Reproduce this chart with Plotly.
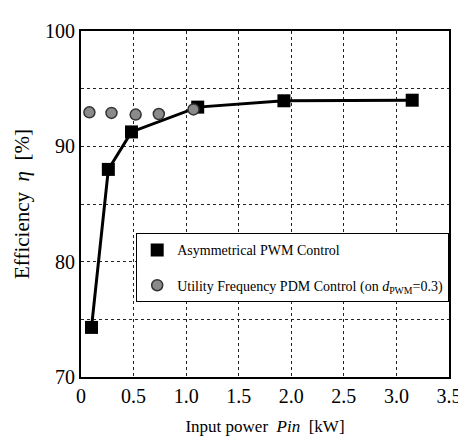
import plotly.graph_objects as go

pwm_x = [0.10, 0.26, 0.48, 1.11, 1.93, 3.15]
pwm_y = [74.3, 88.0, 91.25, 93.4, 93.95, 94.0]
pdm_x = [0.08, 0.29, 0.52, 0.74, 1.07]
pdm_y = [92.95, 92.9, 92.75, 92.8, 93.2]

x_ticks = [0, 0.5, 1.0, 1.5, 2.0, 2.5, 3.0, 3.5]
x_labels = ["0", "0.5", "1.0", "1.5", "2.0", "2.5", "3.0", "3.5"]
y_ticks = [70, 75, 80, 85, 90, 95, 100]
y_labels = ["70", "", "80", "", "90", "", "100"]

font = "Times New Roman, Liberation Serif, serif"

fig = go.Figure()
fig.add_trace(go.Scatter(
    x=pwm_x, y=pwm_y, mode="lines+markers",
    showlegend=False,
    line=dict(color="black", width=3),
    marker=dict(symbol="square", size=13, color="black"),
))
fig.add_trace(go.Scatter(
    x=[None], y=[None], mode="markers",
    name="Asymmetrical PWM Control", legendgroup="a",
    marker=dict(symbol="square", size=13, color="black"),
))
fig.add_trace(go.Scatter(
    x=pdm_x, y=pdm_y, mode="markers", legendgroup="b",
    name="Utility Frequency PDM Control (on <i>d</i><sub>PWM</sub>=0.3)",
    marker=dict(symbol="circle", size=11, color="#8a8a8a",
                line=dict(color="#333333", width=1.5)),
))

fig.update_layout(
    width=466, height=437,
    margin=dict(l=72, r=13, t=23, b=67),
    paper_bgcolor="white", plot_bgcolor="white",
    font=dict(family=font, color="black"),
    showlegend=True,
    legend=dict(x=0.15, y=0.415, xanchor="left", yanchor="top",
                bgcolor="white", bordercolor="black", borderwidth=1,
                font=dict(size=14, family=font), tracegroupgap=14,
                traceorder="grouped", itemwidth=30),
    xaxis=dict(range=[0, 3.5], tickvals=x_ticks, ticktext=x_labels,
               showgrid=True, gridcolor="#222222", gridwidth=1, griddash="dot",
               showline=True, linecolor="black", linewidth=2, mirror=True,
               ticks="", tickfont=dict(size=20, family=font),
               title=dict(text="Input power  <i>Pin</i>  [kW]",
                          font=dict(size=17, family=font), standoff=14),
               zeroline=False),
    yaxis=dict(range=[70, 100], tickvals=y_ticks, ticktext=y_labels,
               showgrid=True, gridcolor="#222222", gridwidth=1, griddash="dot",
               showline=True, linecolor="black", linewidth=2, mirror=True,
               ticks="", tickfont=dict(size=20, family=font),
               title=dict(text="Efficiency  <i>η</i>  [%]",
                          font=dict(size=21, family=font), standoff=10),
               zeroline=False),
)

fig.write_html("out.html")
